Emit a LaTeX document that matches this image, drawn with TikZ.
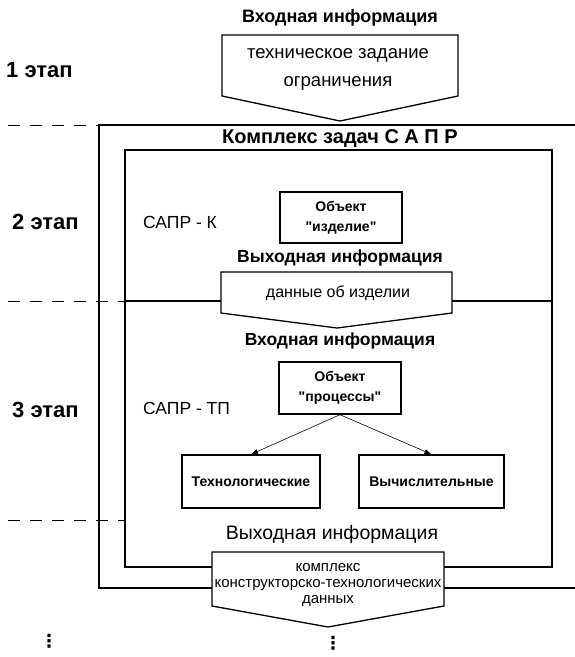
\documentclass[tikz,border=0pt]{standalone}
\usepackage{fontspec}
\setmainfont{Liberation Sans}
\newfontfamily\dotsfont{DejaVu Sans}
\usetikzlibrary{arrows.meta}

\begin{document}
\begin{tikzpicture}[x=1pt,y=-1pt,
  frame/.style={line width=1.8pt},
  pent/.style={draw, line width=1.3pt, fill=white, line join=miter},
  sep/.style={dashed, dash pattern=on 12pt off 10pt, line width=1pt},
  objbox/.style={draw, line width=1.4pt, inner sep=0pt, align=center,
    font=\fontsize{14}{20}\selectfont\bfseries},
  stage/.style={anchor=west, inner sep=0pt, font=\fontsize{22}{24}\selectfont\bfseries},
  head/.style={inner sep=0pt, font=\fontsize{18}{20}\selectfont\bfseries},
  plain/.style={inner sep=0pt, font=\fontsize{18}{20}\selectfont},
  more/.style={inner sep=0pt, font=\dotsfont\bfseries\fontsize{18}{18}\selectfont},
  arr/.style={line width=0.6pt, -{Latex[length=7pt,width=5pt]}}
]
\useasboundingbox (0,0) rectangle (574,657);

% stage separators
\coordinate (s1a) at (8,125);  \coordinate (s1b) at (99,125);
\coordinate (s2a) at (8,301);  \coordinate (s2b) at (125,301);
\coordinate (s3a) at (8,520);  \coordinate (s3b) at (125,520);
\draw[sep] (s1a) -- (s1b);
\draw[sep] (s2a) -- (s2b);
\draw[sep] (s3a) -- (s3b);

% stage labels
\node[stage] (st1) at (6,70)  {1 этап};
\node[stage] (st2) at (12,222) {2 этап};
\node[stage] (st3) at (12,410) {3 этап};

% outer frame (open to the right) and inner frame
\draw[frame] (580,125) -- (99,125) -- (99,588) -- (580,588);
\draw[frame] (125,150) rectangle (552,567);
\draw[frame] (125,301) -- (552,301);

% input of stage 1
\node[head] (in1) at (340,18) {Входная информация};
\draw[pent] (222,35) -- (458,35) -- (458,96) -- (340,121) -- (222,96) -- cycle;
\node[align=center, inner sep=0pt, font=\fontsize{18.5}{28}\selectfont] (spec) at (338,69)
  {техническое задание\\ограничения};

\node[inner sep=0pt, font=\fontsize{20}{22}\selectfont\bfseries] (cad) at (340,139)
  {Комплекс задач С А П Р};

% stage 2: CAD of the product
\node[anchor=west, plain, font=\fontsize{17.5}{20}\selectfont] (cadk) at (143,222) {САПР - К};
\node[objbox, minimum width=122pt, minimum height=51pt] (obj1) at (341,217.5)
  {Объект\\\textquotedbl изделие\textquotedbl};
\node[head, font=\fontsize{17.5}{20}\selectfont\bfseries] (out2) at (340,258) {Выходная информация};
\draw[pent] (221,272) -- (452,272) -- (452,313) -- (337,328) -- (221,313) -- cycle;
\node[inner sep=0pt, font=\fontsize{16}{18}\selectfont] (prod) at (338,293) {данные об изделии};

% stage 3: CAD of the processes
\node[head, font=\fontsize{17.5}{20}\selectfont\bfseries] (in3) at (340,341) {Входная информация};
\node[anchor=west, plain, font=\fontsize{17.5}{20}\selectfont] (cadtp) at (143,408) {САПР - ТП};
\node[objbox, minimum width=122pt, minimum height=52pt] (obj2) at (340,388)
  {Объект\\\textquotedbl процессы\textquotedbl};
\node[objbox, minimum width=138pt, minimum height=53pt] (tech) at (251,481.5) {Технологические};
\node[objbox, minimum width=145pt, minimum height=53pt] (calc) at (431.5,481.5) {Вычислительные};
\draw[arr] (obj2.south) -- (tech.north);
\draw[arr] (obj2.south) -- (calc.north);

\node[plain, font=\fontsize{19.5}{22}\selectfont] (out3) at (332,534) {Выходная информация};
\draw[pent] (212,552) -- (444,552) -- (444,606) -- (328,627) -- (212,606) -- cycle;
\node[align=center, inner sep=0pt, font=\fontsize{15}{16}\selectfont] (data) at (328,585)
  {комплекс\\конструкторско-технологических\\данных};

% continuation marks
\node[more] (more1) at (49,641) {⋮};
\node[more] (more2) at (333,643) {⋮};
\end{tikzpicture}
\end{document}
